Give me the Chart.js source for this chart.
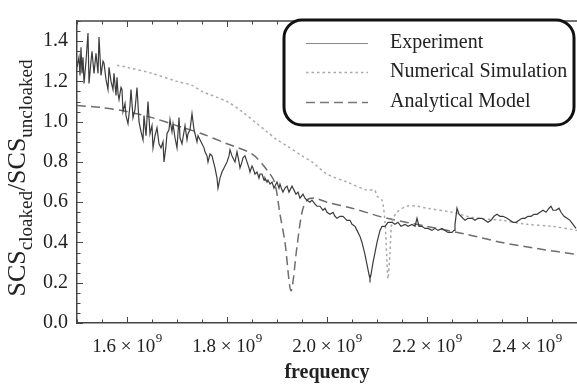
<!DOCTYPE html>
<html>
<head>
<meta charset="utf-8">
<script src="https://cdn.jsdelivr.net/npm/chart.js@4.4.0/dist/chart.umd.min.js"></script>
<style>
  html, body { margin: 0; padding: 0; background: #fff; }
  #wrap { width: 577px; height: 384px; }
</style>
</head>
<body>
<div id="wrap"><canvas id="chart" width="577" height="384"></canvas></div>
<script>
// frequency in units of 10^9 Hz
const expFreq = [
  1.500, 1.504, 1.506, 1.508, 1.510, 1.512, 1.514, 1.518, 1.522, 1.524,
  1.528, 1.530, 1.534, 1.538, 1.542, 1.544, 1.548, 1.552, 1.554, 1.558,
  1.562, 1.564, 1.568, 1.572, 1.574, 1.578, 1.580, 1.582, 1.584, 1.588,
  1.590, 1.592, 1.596, 1.598, 1.602, 1.606, 1.608, 1.612, 1.616, 1.620,
  1.624, 1.628, 1.632, 1.634, 1.636, 1.638, 1.642, 1.646, 1.650, 1.652,
  1.656, 1.660, 1.664, 1.668, 1.672, 1.674, 1.678, 1.680, 1.684, 1.686,
  1.690, 1.692, 1.696, 1.700, 1.704, 1.706, 1.710, 1.714, 1.716, 1.720,
  1.722, 1.726, 1.730, 1.734, 1.736, 1.740, 1.742, 1.746, 1.750, 1.754,
  1.756, 1.760, 1.762, 1.766, 1.770, 1.774, 1.776, 1.780, 1.782, 1.786,
  1.790, 1.794, 1.800, 1.804, 1.806, 1.810, 1.812, 1.816, 1.820, 1.824,
  1.826, 1.830, 1.832, 1.836, 1.840, 1.844, 1.846, 1.850, 1.852, 1.856,
  1.860, 1.864, 1.866, 1.870, 1.874, 1.876, 1.880, 1.882, 1.886, 1.890,
  1.894, 1.896, 1.900, 1.904, 1.906, 1.910, 1.912, 1.916, 1.920, 1.924,
  1.926, 1.930, 1.934, 1.938, 1.942, 1.946, 1.952, 1.956, 1.960, 1.966,
  1.970, 1.976, 1.980, 1.986, 1.992, 1.996, 2.000, 2.006, 2.012, 2.016,
  2.020, 2.026, 2.032, 2.036, 2.040, 2.046, 2.050, 2.056, 2.060, 2.066,
  2.070, 2.076, 2.080, 2.084, 2.086, 2.088, 2.092, 2.096, 2.100, 2.106,
  2.110, 2.116, 2.122, 2.130, 2.136, 2.142, 2.148, 2.156, 2.162, 2.170,
  2.176, 2.180, 2.184, 2.190, 2.196, 2.202, 2.210, 2.216, 2.222, 2.230,
  2.236, 2.242, 2.250, 2.254, 2.256, 2.260, 2.264, 2.268, 2.276, 2.282,
  2.290, 2.296, 2.302, 2.310, 2.316, 2.322, 2.328, 2.334, 2.340, 2.346,
  2.352, 2.360, 2.366, 2.372, 2.378, 2.384, 2.390, 2.396, 2.402, 2.408,
  2.414, 2.420, 2.426, 2.432, 2.438, 2.444, 2.448, 2.452, 2.458, 2.464,
  2.468, 2.474, 2.480, 2.486, 2.492, 2.498
];
const expValue = [
  1.27, 1.32, 1.23, 1.37, 1.24, 1.32, 1.19, 1.30, 1.44, 1.19,
  1.30, 1.35, 1.24, 1.34, 1.24, 1.42, 1.23, 1.30, 1.29, 1.21,
  1.16, 1.27, 1.20, 1.16, 1.24, 1.13, 1.22, 1.14, 1.11, 1.17,
  1.16, 1.05, 1.09, 1.03, 0.99, 1.08, 1.16, 1.02, 1.06, 1.17,
  1.00, 0.95, 0.91, 1.03, 0.98, 0.93, 1.10, 0.94, 0.98, 0.87,
  0.93, 0.97, 0.89, 0.87, 0.90, 0.80, 0.88, 0.94, 0.96, 1.01,
  0.95, 0.99, 0.92, 0.87, 1.02, 0.92, 0.89, 0.95, 0.98, 0.91,
  0.94, 0.96, 1.04, 0.96, 0.94, 0.90, 0.93, 0.91, 0.89, 0.87,
  0.85, 0.83, 0.80, 0.84, 0.83, 0.79, 0.77, 0.72, 0.67, 0.72,
  0.75, 0.77, 0.80, 0.83, 0.86, 0.83, 0.82, 0.80, 0.85, 0.80,
  0.77, 0.80, 0.82, 0.83, 0.80, 0.77, 0.75, 0.78, 0.77, 0.74,
  0.75, 0.72, 0.74, 0.74, 0.71, 0.72, 0.70, 0.71, 0.69, 0.70,
  0.67, 0.68, 0.70, 0.67, 0.69, 0.66, 0.65, 0.67, 0.68, 0.65,
  0.66, 0.68, 0.66, 0.64, 0.65, 0.62, 0.64, 0.62, 0.61, 0.60,
  0.61, 0.59, 0.58, 0.58, 0.56, 0.57, 0.55, 0.54, 0.55, 0.53,
  0.52, 0.53, 0.53, 0.52, 0.51, 0.51, 0.49, 0.48, 0.46, 0.43,
  0.40, 0.34, 0.29, 0.24, 0.22, 0.24, 0.30, 0.35, 0.40, 0.46,
  0.48, 0.48, 0.50, 0.50, 0.49, 0.50, 0.48, 0.49, 0.48, 0.49,
  0.48, 0.52, 0.48, 0.48, 0.47, 0.47, 0.46, 0.47, 0.46, 0.47,
  0.46, 0.45, 0.45, 0.46, 0.49, 0.57, 0.54, 0.53, 0.51, 0.52,
  0.52, 0.51, 0.52, 0.52, 0.51, 0.50, 0.51, 0.53, 0.54, 0.53,
  0.53, 0.52, 0.51, 0.50, 0.50, 0.51, 0.52, 0.52, 0.53, 0.53,
  0.54, 0.54, 0.55, 0.56, 0.55, 0.57, 0.58, 0.56, 0.56, 0.57,
  0.55, 0.53, 0.52, 0.51, 0.49, 0.47
];

const simFreq = [
  1.580, 1.600, 1.650, 1.700, 1.730, 1.750, 1.800, 1.830, 1.860, 1.880,
  1.900, 1.920, 1.950, 1.970, 2.000, 2.040, 2.080, 2.095, 2.100, 2.110,
  2.116, 2.120, 2.122, 2.126, 2.130, 2.140, 2.160, 2.180, 2.200, 2.250,
  2.280, 2.300, 2.350, 2.400, 2.450, 2.500
];
const simValue = [
  1.28, 1.27, 1.24, 1.20, 1.18, 1.15, 1.10, 1.05, 0.99, 0.95,
  0.91, 0.88, 0.83, 0.80, 0.74, 0.70, 0.66, 0.66, 0.63, 0.61,
  0.50, 0.30, 0.22, 0.35, 0.50, 0.55, 0.58, 0.58, 0.57, 0.55,
  0.53, 0.52, 0.51, 0.49, 0.48, 0.46
];

const modelFreq = [
  1.500, 1.550, 1.600, 1.650, 1.700, 1.750, 1.800, 1.850, 1.880, 1.895,
  1.906, 1.916, 1.928, 1.940, 1.950, 1.960, 1.975, 2.000, 2.050, 2.120,
  2.200, 2.280, 2.350, 2.420, 2.500
];
const modelValue = [
  1.08, 1.07, 1.05, 1.02, 0.98, 0.94, 0.89, 0.84, 0.76, 0.70,
  0.54, 0.40, 0.16, 0.38, 0.55, 0.61, 0.62, 0.60, 0.57, 0.52,
  0.48, 0.44, 0.40, 0.37, 0.34
];

const xTicks = [1.6, 1.8, 2.0, 2.2, 2.4];
const yTicks = [0.0, 0.2, 0.4, 0.6, 0.8, 1.0, 1.2, 1.4];
const seriesNames = ['Experiment', 'Numerical Simulation', 'Analytical Model'];

const SERIF = "'Liberation Serif', 'DejaVu Serif', serif";

function toPoints(xs, ys) {
  return xs.map((f, i) => ({ x: f, y: ys[i] }));
}

// frame: top border, inward tick marks, x tick labels, axis titles
const framePlugin = {
  id: 'frame',
  afterDraw(chart) {
    const { ctx, chartArea: a, scales: { x, y } } = chart;
    ctx.save();
    ctx.strokeStyle = '#444';
    ctx.lineWidth = 1.5;
    ctx.beginPath();
    ctx.moveTo(a.left, a.top);
    ctx.lineTo(a.right, a.top);
    ctx.stroke();

    ctx.lineWidth = 1;
    ctx.beginPath();
    for (let i = 0; i <= 20; i++) {
      const v = 1.5 + i * 0.05;
      const px = Math.round(x.getPixelForValue(v)) + 0.5;
      const len = (i % 4 === 2) ? 6 : 3.5;
      ctx.moveTo(px, a.bottom);
      ctx.lineTo(px, a.bottom - len);
      ctx.moveTo(px, a.top);
      ctx.lineTo(px, a.top + len);
    }
    for (let i = 0; i <= 30; i++) {
      const v = i * 0.05;
      const py = Math.round(y.getPixelForValue(v)) + 0.5;
      const len = (i % 4 === 0) ? 6 : 3.5;
      ctx.moveTo(a.left, py);
      ctx.lineTo(a.left + len, py);
    }
    ctx.stroke();

    // x tick labels with superscript exponent
    ctx.fillStyle = '#222';
    ctx.textBaseline = 'alphabetic';
    ctx.textAlign = 'left';
    xTicks.forEach(v => {
      const main = v.toFixed(1) + ' \u00d7 10';
      ctx.font = '19px ' + SERIF;
      const w1 = ctx.measureText(main).width;
      ctx.font = '13px ' + SERIF;
      const w2 = ctx.measureText('9').width;
      const px = x.getPixelForValue(v);
      const sx = px - (w1 + w2) / 2;
      ctx.font = '19px ' + SERIF;
      ctx.fillText(main, sx, 352);
      ctx.font = '13px ' + SERIF;
      ctx.fillText('9', sx + w1 + 0.5, 342);
    });

    // x title
    ctx.font = 'bold 20px ' + SERIF;
    ctx.textAlign = 'center';
    ctx.fillText('frequency', (a.left + a.right) / 2, 378);

    // y title with subscripts
    const parts = [
      { t: 'SCS', size: 26, dy: 0 },
      { t: 'cloaked', size: 19, dy: 7 },
      { t: '/SCS', size: 26, dy: 0 },
      { t: 'uncloaked', size: 19, dy: 7 }
    ];
    let total = 0;
    parts.forEach(p => {
      ctx.font = p.size + 'px ' + SERIF;
      p.w = ctx.measureText(p.t).width;
      total += p.w;
    });
    ctx.translate(25, 178);
    ctx.rotate(-Math.PI / 2);
    ctx.textAlign = 'left';
    let cx = -total / 2;
    parts.forEach(p => {
      ctx.font = p.size + 'px ' + SERIF;
      ctx.fillText(p.t, cx, p.dy);
      cx += p.w;
    });
    ctx.restore();
  }
};

// rounded legend box in the upper right
const legendPlugin = {
  id: 'roundLegend',
  afterDraw(chart) {
    const { ctx } = chart;
    const bx = 284, by = 20, bw = 290, bh = 105, r = 18;
    ctx.save();
    ctx.beginPath();
    ctx.moveTo(bx + r, by);
    ctx.arcTo(bx + bw, by, bx + bw, by + bh, r);
    ctx.arcTo(bx + bw, by + bh, bx, by + bh, r);
    ctx.arcTo(bx, by + bh, bx, by, r);
    ctx.arcTo(bx, by, bx + bw, by, r);
    ctx.closePath();
    ctx.fillStyle = '#fff';
    ctx.fill();
    ctx.lineWidth = 3;
    ctx.strokeStyle = '#111';
    ctx.stroke();

    const rows = [43, 72, 102];
    const legendColors = ['#8a8a8a', '#a8a8a8', '#777'];
    chart.data.datasets.forEach((ds, i) => {
      ctx.beginPath();
      ctx.setLineDash(ds.borderDash || []);
      ctx.strokeStyle = legendColors[i];
      ctx.lineWidth = i === 0 ? 1.2 : 1.5;
      ctx.moveTo(306, rows[i] + 0.5);
      ctx.lineTo(368, rows[i] + 0.5);
      ctx.stroke();
      ctx.setLineDash([]);
      ctx.fillStyle = '#222';
      ctx.font = '20px ' + SERIF;
      ctx.textBaseline = 'middle';
      ctx.textAlign = 'left';
      ctx.fillText(seriesNames[i], 390, rows[i]);
    });
    ctx.restore();
  }
};

const ctx = document.getElementById('chart').getContext('2d');
new Chart(ctx, {
  type: 'line',
  data: {
    datasets: [{
      label: seriesNames[0],
      data: toPoints(expFreq, expValue),
      borderColor: '#3c3c3c',
      borderWidth: 1.2,
      pointRadius: 0,
      tension: 0
    }, {
      label: seriesNames[1],
      data: toPoints(simFreq, simValue),
      borderColor: '#aaaaaa',
      borderWidth: 1.5,
      borderDash: [2.5, 3],
      pointRadius: 0,
      tension: 0.3
    }, {
      label: seriesNames[2],
      data: toPoints(modelFreq, modelValue),
      borderColor: '#6e6e6e',
      borderWidth: 1.5,
      borderDash: [9, 5],
      pointRadius: 0,
      tension: 0.3
    }]
  },
  options: {
    responsive: false,
    animation: false,
    devicePixelRatio: 1,
    layout: { padding: { left: 0, top: 10, right: 0, bottom: 0 } },
    plugins: {
      legend: { display: false },
      tooltip: { enabled: false }
    },
    scales: {
      x: {
        type: 'linear',
        min: 1.5,
        max: 2.5,
        grid: { display: false, drawTicks: false },
        border: { display: true, color: '#444', width: 1.5 },
        ticks: { display: false },
        afterBuildTicks: s => { s.ticks = xTicks.map(v => ({ value: v })); },
        afterFit: s => { s.height = 61; }
      },
      y: {
        min: 0,
        max: 1.5,
        grid: { display: false, drawTicks: false },
        border: { display: true, color: '#444', width: 1.5 },
        ticks: {
          color: '#222',
          padding: 9,
          font: { family: SERIF, size: 20 },
          callback: v => v.toFixed(1)
        },
        afterBuildTicks: s => { s.ticks = yTicks.map(v => ({ value: v })); },
        afterFit: s => { s.width = 77; }
      }
    }
  },
  plugins: [framePlugin, legendPlugin]
});
</script>
</body>
</html>
